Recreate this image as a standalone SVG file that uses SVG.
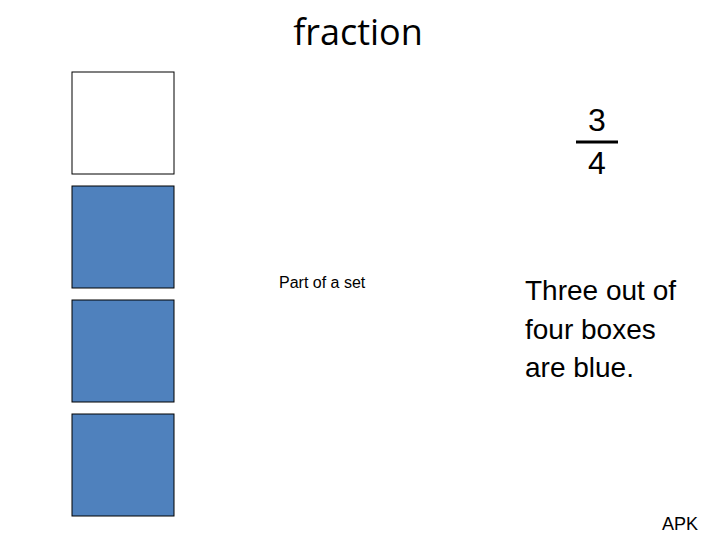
<svg xmlns="http://www.w3.org/2000/svg" width="720" height="540" viewBox="0 0 720 540">
<style>
.box{stroke:#000;stroke-width:1}
.b{fill:#4F81BD}
.t{font-family:"Liberation Sans",Arial,sans-serif;fill:#000}
</style>
<rect width="720" height="540" fill="#fff"/>
<text x="358" y="45" text-anchor="middle" style="font-family:'Open Sans','Liberation Sans',sans-serif;font-size:36px">fraction</text>
<g id="box1"><rect class="box" x="72" y="72" width="102" height="102" fill="#fff"/></g>
<g id="box2"><rect class="box b" x="72" y="186" width="102" height="102"/></g>
<g id="box3"><rect class="box b" x="72" y="300" width="102" height="102"/></g>
<g id="box4"><rect class="box b" x="72" y="414" width="102" height="102"/></g>
<g id="frac">
<text class="t" x="597" y="131" text-anchor="middle" font-size="32">3</text>
<line x1="576" y1="142" x2="618" y2="142" stroke="#000" stroke-width="3"/>
<text class="t" x="597" y="174" text-anchor="middle" font-size="32">4</text>
</g>
<text class="t" x="279" y="288" font-size="16">Part of a set</text>
<text class="t" font-size="28"><tspan x="525" y="300">Three out of</tspan><tspan x="525" y="339">four boxes</tspan><tspan x="525" y="377">are blue.</tspan></text>
<text class="t" x="662" y="530" font-size="18">APK</text>
</svg>
